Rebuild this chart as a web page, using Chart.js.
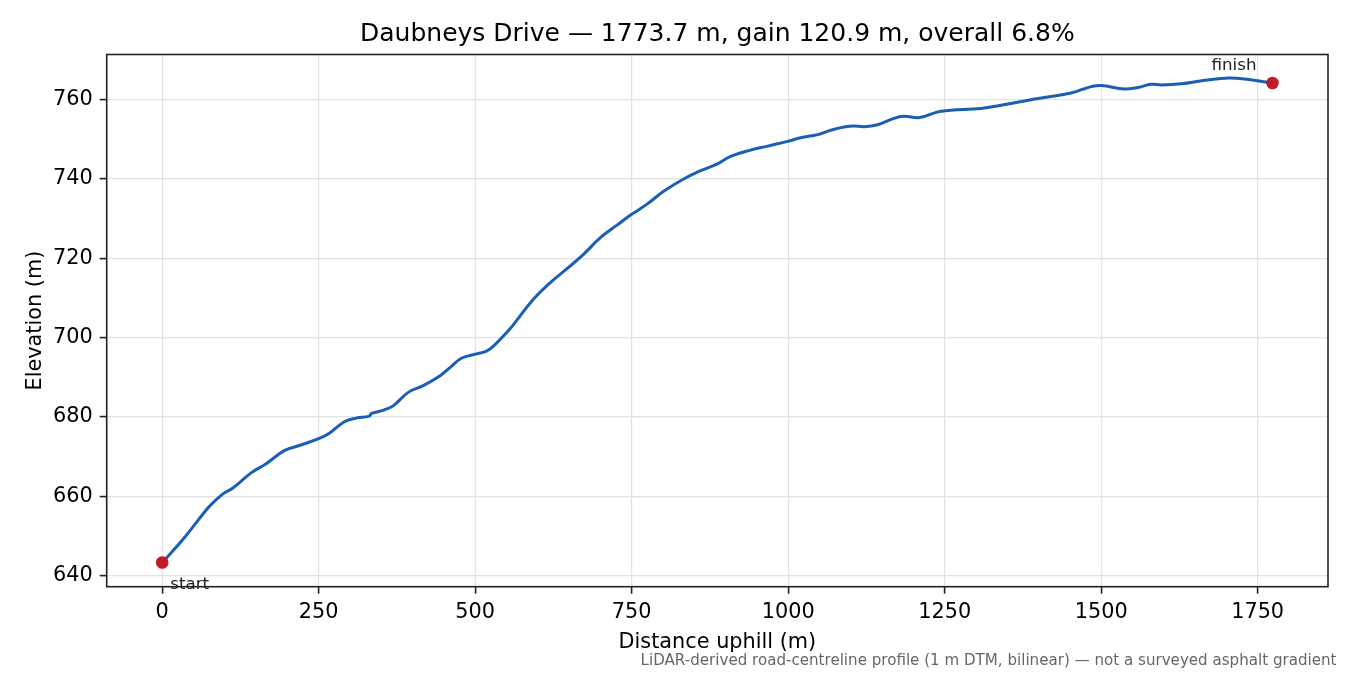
<!DOCTYPE html>
<html>
<head>
<meta charset="utf-8">
<title>Daubneys Drive profile</title>
<script src="https://cdn.jsdelivr.net/npm/chart.js@4.4.1/dist/chart.umd.min.js"></script>
<style>
  html, body { margin: 0; padding: 0; background: #fff; }
  #wrap { width: 1350px; height: 675px; }
</style>
</head>
<body>
<div id="wrap"><canvas id="profile" width="1350" height="675"></canvas></div>
<script>
// distance along the road (m) and elevation (m)
var distance = [0, 32, 59, 75, 97, 113, 142, 166, 195, 219, 251, 267, 291, 310, 331, 334, 337,
  355, 369, 393, 417, 444, 460, 478, 502, 518, 530, 556, 566, 593, 620, 652, 673, 700,
  726, 750, 774, 801, 833, 860, 887, 908, 940, 967, 999, 1020, 1047, 1068, 1089, 1105, 1121,
  1143, 1169, 1185, 1210, 1244, 1308, 1340, 1388, 1452, 1470, 1484, 1500, 1537, 1559,
  1580, 1596, 1628, 1666, 1704, 1736, 1773.7];
var elevation = [643.3, 648.9, 654.3, 657.4, 660.6, 662.1, 665.9, 668.2, 671.5, 672.8, 674.6, 675.9, 678.8, 679.7, 680.2, 680.9, 681.0,
  681.8, 682.8, 686.2, 687.9, 690.4, 692.5, 694.8, 695.9, 696.6, 698.0, 702.3, 704.3, 709.7, 713.9, 718.1, 721.0, 725.2,
  728.3, 731.1, 733.6, 736.9, 740.0, 742.1, 743.8, 745.7, 747.3, 748.3, 749.5, 750.4, 751.2, 752.3, 753.1, 753.4, 753.2,
  753.7, 755.3, 755.8, 755.5, 757.1, 757.8, 758.6, 760.0, 761.7, 762.6, 763.3, 763.6, 762.7, 763.1,
  763.9, 763.7, 764.0, 764.9, 765.5, 765.1, 764.2];

var xTicks = [0, 250, 500, 750, 1000, 1250, 1500, 1750];
var yTicks = [640, 660, 680, 700, 720, 740, 760];

var titleText = "Daubneys Drive \u2014 1773.7 m, gain 120.9 m, overall 6.8%";
var noteText = "LiDAR-derived road-centreline profile (1 m DTM, bilinear) \u2014 not a surveyed asphalt gradient";

var FONT = '"DejaVu Sans", sans-serif';

var profile = distance.map(function (d, i) { return { x: d, y: elevation[i] }; });
var last = distance.length - 1;
var ends = [
  { x: distance[0], y: elevation[0] },
  { x: distance[last], y: elevation[last] }
];

// start / finish labels, full frame and the footnote
var extras = {
  id: 'extras',
  afterDraw: function (chart) {
    var ctx = chart.ctx, xs = chart.scales.x, ys = chart.scales.y, a = chart.chartArea;
    var sx = xs.getPixelForValue(ends[0].x), sy = ys.getPixelForValue(ends[0].y);
    var fx = xs.getPixelForValue(ends[1].x), fy = ys.getPixelForValue(ends[1].y);
    ctx.save();
    ctx.strokeStyle = '#222';
    ctx.lineWidth = 1.6;
    ctx.strokeRect(a.left, a.top, a.right - a.left, a.bottom - a.top);

    ctx.fillStyle = '#222';
    ctx.font = '16.7px ' + FONT;
    ctx.textBaseline = 'alphabetic';
    ctx.textAlign = 'left';
    ctx.fillText('start', sx + 8, sy + 26);
    ctx.textAlign = 'right';
    ctx.fillText('finish', fx - 16, fy - 12.6);

    ctx.fillStyle = '#666';
    ctx.font = '15.1px ' + FONT;
    ctx.fillText(noteText, 1336.5, 665);
    ctx.restore();
  }
};

var gridStyle = { color: '#e3e3e3', lineWidth: 1.2, tickColor: '#222', tickLength: 7, tickWidth: 1.6 };

new Chart(document.getElementById('profile'), {
  type: 'scatter',
  data: {
    datasets: [
      {
        label: 'profile',
        data: profile,
        showLine: true,
        borderColor: '#1a5fb4',
        borderWidth: 3,
        pointRadius: 0,
        tension: 0.4,
        order: 2
      },
      {
        label: 'ends',
        data: ends,
        showLine: false,
        pointRadius: 6.3,
        pointBackgroundColor: '#c01c28',
        pointBorderWidth: 0,
        clip: false,
        order: 1
      }
    ]
  },
  plugins: [extras],
  options: {
    responsive: false,
    animation: false,
    devicePixelRatio: 1,
    layout: { padding: { left: 0, right: 22, top: 0, bottom: 0 } },
    plugins: {
      legend: { display: false },
      tooltip: { enabled: false },
      title: {
        display: true,
        fullSize: false,
        text: titleText,
        color: '#000',
        font: { family: FONT, size: 25, weight: 'normal' },
        padding: { top: 19, bottom: 5.5 }
      }
    },
    scales: {
      x: {
        type: 'linear',
        min: -88.7,
        max: 1862.4,
        afterBuildTicks: function (s) { s.ticks = xTicks.map(function (v) { return { value: v }; }); },
        afterFit: function (s) { s.height = 88.3; },
        grid: gridStyle,
        border: { display: false },
        ticks: {
          color: '#000', padding: 6, maxRotation: 0,
          font: { family: FONT, size: 20.8 },
          callback: function (v) { return String(v); }
        },
        title: {
          display: true, text: 'Distance uphill (m)', color: '#000',
          font: { family: FONT, size: 20.8 },
          padding: { top: 0, bottom: 19.5 }
        }
      },
      y: {
        type: 'linear',
        min: 637.2,
        max: 771.4,
        afterBuildTicks: function (s) { s.ticks = yTicks.map(function (v) { return { value: v }; }); },
        afterFit: function (s) { s.width = 106.7; },
        grid: gridStyle,
        border: { display: false },
        ticks: {
          color: '#000', padding: 7,
          font: { family: FONT, size: 20.8 },
          callback: function (v) { return String(v); }
        },
        title: {
          display: true, text: 'Elevation (m)', color: '#000',
          font: { family: FONT, size: 20.8 },
          padding: { top: 23.5, bottom: 0 }
        }
      }
    }
  }
});
</script>
</body>
</html>
